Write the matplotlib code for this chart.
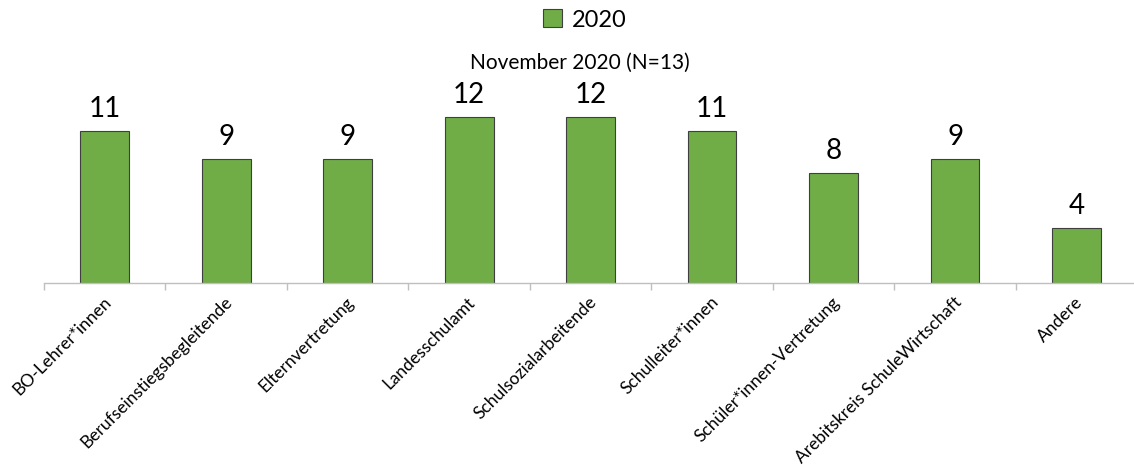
import matplotlib.pyplot as plt
import numpy as np

categories = [
    "BO-Lehrer*innen",
    "Berufseinstiegsbegleitende",
    "Elternvertretung",
    "Landesschulamt",
    "Schulsozialarbeitende",
    "Schulleiter*innen",
    "Schüler*innen-Vertretung",
    "Arebitskreis SchuleWirtschaft",
    "Andere",
]
values_2020 = [11, 9, 9, 12, 12, 11, 8, 9, 4]
series_label = "2020"
subtitle = "November 2020 (N=13)"

plt.rcParams["font.family"] = ["Lato", "DejaVu Sans"]

W, H = 1134, 465
fig = plt.figure(figsize=(W / 100, H / 100), dpi=100)
ax = fig.add_axes([44 / W, 1 - 283 / H, (W - 44) / W + 0.003, 203 / H])

x = np.arange(len(categories))
bars = ax.bar(x, values_2020, width=0.4, color="#70AD47", edgecolor="#3F3F3F",
              linewidth=0.8, label=series_label)

for xi, v in zip(x, values_2020):
    ax.text(xi, v + 0.65, str(v), ha="center", va="bottom", fontsize=20, color="#000000")

ax.set_xlim(-0.5, len(categories) - 0.5)
ax.set_ylim(0, 14.7)
ax.set_yticks([])
for s in ["top", "right", "left"]:
    ax.spines[s].set_visible(False)
ax.spines["bottom"].set_color("#BFBFBF")
ax.spines["bottom"].set_linewidth(1.0)

ax.set_xticks(x + 0.03)
ax.set_xticklabels(categories, rotation=45, ha="right", va="center",
                   rotation_mode="anchor", fontsize=12.5, color="#000000")
ax.tick_params(axis="x", which="major", length=0, pad=12)
ax.set_xticks(np.arange(-0.5, len(categories), 1), minor=True)
ax.tick_params(axis="x", which="minor", length=5, color="#BFBFBF", width=1)

fig.text(580 / W, 1 - 63 / H, subtitle, ha="center", va="center", fontsize=15, color="#000000")
fig.legend(handles=[bars], labels=[series_label], loc="center", bbox_to_anchor=(585 / W, 1 - 20 / H),
           frameon=False, fontsize=17, handlelength=0.8, handleheight=0.8, handletextpad=0.4)

fig.savefig("out.png", dpi=100, facecolor="white")
